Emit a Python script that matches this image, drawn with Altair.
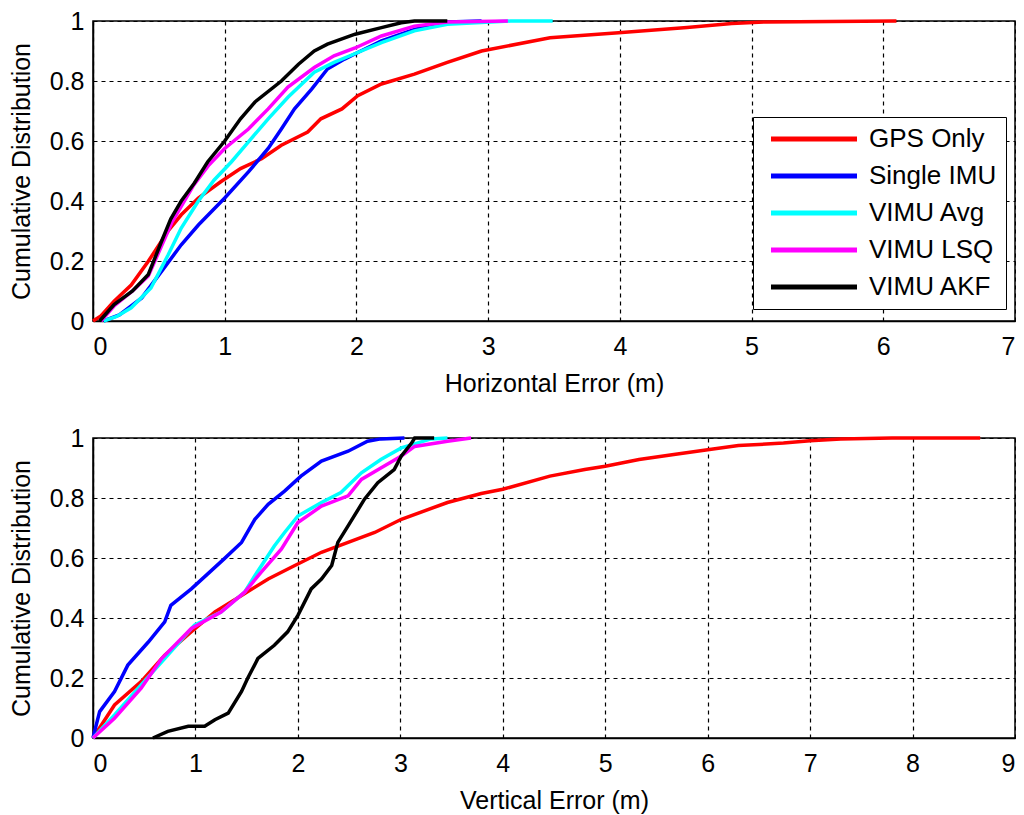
import altair as alt
import pandas as pd

methods = ["GPS Only", "Single IMU", "VIMU Avg", "VIMU LSQ", "VIMU AKF"]
colors = ["#ff0000", "#0000ff", "#00ffff", "#ff00ff", "#000000"]

# horizontal error CDFs (top panel)
gps_h_x = [0, 0.06, 0.16, 0.29, 0.42, 0.57, 0.67, 0.80, 0.97, 1.12, 1.28, 1.43, 1.63, 1.73, 1.89,
           2.01, 2.19, 2.44, 2.69, 2.95, 3.47, 3.99, 4.51, 4.85, 5.11, 6.1]
gps_h_y = [0, 0.017, 0.066, 0.12, 0.199, 0.30, 0.354, 0.41, 0.464, 0.508, 0.541, 0.586, 0.63, 0.674,
           0.707, 0.751, 0.79, 0.823, 0.862, 0.90, 0.944, 0.961, 0.978, 0.992, 0.997, 1.0]
imu_h_x = [0.08, 0.2, 0.37, 0.54, 0.67, 0.80, 1.0, 1.18, 1.33, 1.43, 1.53, 1.66, 1.78, 1.91, 2.01,
           2.19, 2.44, 2.69, 2.95]
imu_h_y = [0, 0.02, 0.077, 0.177, 0.254, 0.32, 0.41, 0.497, 0.575, 0.64, 0.707, 0.773, 0.84, 0.873,
           0.895, 0.934, 0.972, 0.997, 1.0]
avg_h_x = [0.08, 0.18, 0.29, 0.44, 0.57, 0.67, 0.80, 0.92, 1.05, 1.18, 1.33, 1.48, 1.68, 1.83, 2.01,
           2.19, 2.44, 2.69, 3.17, 3.49]
avg_h_y = [0, 0.015, 0.044, 0.11, 0.22, 0.31, 0.40, 0.47, 0.53, 0.597, 0.674, 0.746, 0.829, 0.862,
           0.895, 0.928, 0.967, 0.989, 1.0, 1.0]
lsq_h_x = [0.06, 0.16, 0.30, 0.42, 0.52, 0.60, 0.68, 0.76, 0.88, 1.0, 1.18, 1.33, 1.48, 1.68, 1.83,
           1.99, 2.19, 2.44, 2.69, 3.15]
lsq_h_y = [0, 0.05, 0.1, 0.15, 0.25, 0.33, 0.39, 0.45, 0.52, 0.575, 0.64, 0.707, 0.78, 0.845, 0.884,
           0.91, 0.95, 0.983, 0.997, 1.0]
akf_h_x = [0.05, 0.16, 0.30, 0.42, 0.52, 0.59, 0.67, 0.77, 0.87, 1.0, 1.12, 1.23, 1.43, 1.56, 1.68,
           1.78, 1.99, 2.19, 2.34, 2.44, 2.69]
akf_h_y = [0, 0.055, 0.1, 0.155, 0.265, 0.34, 0.40, 0.46, 0.53, 0.60, 0.674, 0.73, 0.80, 0.856, 0.90,
           0.923, 0.956, 0.978, 0.994, 1.0, 1.0]

# vertical error CDFs (bottom panel)
gps_v_x = [0, 0.21, 0.47, 0.70, 0.96, 1.19, 1.45, 1.71, 1.97, 2.23, 2.49, 2.75, 3.01, 3.46, 3.79, 4.0,
           4.46, 4.8, 5.0, 5.33, 5.67, 6.0, 6.3, 6.74, 7.0, 7.3, 7.8, 8.66]
gps_v_y = [0, 0.11, 0.188, 0.276, 0.354, 0.42, 0.475, 0.53, 0.575, 0.619, 0.652, 0.685, 0.729, 0.785,
           0.815, 0.829, 0.873, 0.895, 0.906, 0.928, 0.945, 0.961, 0.975, 0.983, 0.991, 0.997, 1.0, 1.0]
imu_v_x = [0, 0.02, 0.065, 0.21, 0.34, 0.54, 0.70, 0.76, 0.96, 1.12, 1.28, 1.45, 1.58, 1.71, 1.87,
           2.03, 2.23, 2.49, 2.68, 2.81, 3.04]
imu_v_y = [0, 0.028, 0.088, 0.155, 0.243, 0.32, 0.387, 0.442, 0.497, 0.547, 0.597, 0.652, 0.729,
           0.779, 0.823, 0.873, 0.923, 0.956, 0.989, 0.997, 1.0]
avg_v_x = [0, 0.21, 0.47, 0.70, 0.99, 1.25, 1.48, 1.58, 1.77, 1.87, 2.0, 2.23, 2.42, 2.62, 2.81, 3.01,
           3.3, 3.46]
avg_v_y = [0, 0.077, 0.177, 0.265, 0.376, 0.42, 0.486, 0.541, 0.64, 0.685, 0.74, 0.785, 0.818, 0.884,
           0.928, 0.967, 0.997, 1.0]
lsq_v_x = [0, 0.21, 0.47, 0.67, 0.96, 1.25, 1.48, 1.64, 1.84, 2.0, 2.23, 2.49, 2.62, 2.81, 3.01, 3.14,
           3.46, 3.69]
lsq_v_y = [0, 0.066, 0.166, 0.265, 0.365, 0.42, 0.486, 0.552, 0.63, 0.718, 0.773, 0.807, 0.862, 0.90,
           0.94, 0.972, 0.989, 1.0]
akf_v_x = [0.585, 0.73, 0.93, 1.09, 1.19, 1.32, 1.45, 1.51, 1.61, 1.77, 1.90, 2.0, 2.13, 2.23, 2.33,
           2.39, 2.49, 2.65, 2.78, 2.94, 3.01, 3.11, 3.14, 3.33]
akf_v_y = [0, 0.022, 0.039, 0.039, 0.061, 0.083, 0.155, 0.199, 0.265, 0.309, 0.354, 0.409, 0.497,
           0.53, 0.575, 0.652, 0.707, 0.796, 0.851, 0.895, 0.94, 0.983, 1.0, 1.0]

FONT = "Liberation Sans"


def frame(series):
    rows = []
    for m, (xs, ys) in zip(methods, series):
        for i, (xv, yv) in enumerate(zip(xs, ys)):
            rows.append({"method": m, "err": xv, "cdf": yv, "i": i})
    return pd.DataFrame(rows)


def panel(df, xmax, xtitle, legend):
    base = alt.Chart(df)
    layers = []
    for m in methods:
        layers.append(
            base.transform_filter(alt.datum.method == m).mark_line(strokeWidth=3.5).encode(
                x=alt.X("err:Q", scale=alt.Scale(domain=[0, xmax], nice=False),
                        axis=alt.Axis(values=list(range(xmax + 1)), format="d", title=xtitle,
                                      labelPadding=13, titlePadding=12)),
                y=alt.Y("cdf:Q", scale=alt.Scale(domain=[0, 1], nice=False),
                        axis=alt.Axis(values=[0, 0.2, 0.4, 0.6, 0.8, 1], format="~g",
                                      title="Cumulative Distribution",
                                      labelPadding=9, titlePadding=15)),
                color=alt.Color("method:N", scale=alt.Scale(domain=methods, range=colors),
                                legend=legend),
                order="i:Q",
            )
        )
    return alt.layer(*layers).properties(width=922, height=300)


top_df = frame([(gps_h_x, gps_h_y), (imu_h_x, imu_h_y), (avg_h_x, avg_h_y),
                (lsq_h_x, lsq_h_y), (akf_h_x, akf_h_y)])
bottom_df = frame([(gps_v_x, gps_v_y), (imu_v_x, imu_v_y), (avg_v_x, avg_v_y),
                   (lsq_v_x, lsq_v_y), (akf_v_x, akf_v_y)])

# long line swatch drawn from a short symbol so the rows stay compact
legend = alt.Legend(
    title=None, orient="none", legendX=660, legendY=96,
    symbolType="M-0.4,0H8.2", symbolSize=400, symbolStrokeWidth=5,
    labelFont=FONT, labelFontSize=26, labelColor="black", labelOffset=81,
    padding=9, rowPadding=11, strokeColor="black", fillColor="white",
)

top = panel(top_df, 7, "Horizontal Error (m)", legend)
bottom = panel(bottom_df, 9, "Vertical Error (m)", None)

chart = alt.vconcat(top, bottom, spacing=28).resolve_scale(
    color="independent"
).resolve_legend(color="independent").properties(
    padding={"left": 0, "top": 0, "right": 0, "bottom": 0}
).configure_view(
    stroke="black", strokeWidth=1.5
).configure_axis(
    labelFont=FONT, titleFont=FONT, labelFontSize=25, titleFontSize=25,
    titleFontWeight="normal", labelColor="black", titleColor="black",
    domainColor="black", domainWidth=1.5, ticks=False, tickSize=0,
    gridColor="black", gridDash=[4, 4], gridWidth=1.2, gridOpacity=1,
)

chart.save("out.html", embed_options={"renderer": "svg", "actions": False})
